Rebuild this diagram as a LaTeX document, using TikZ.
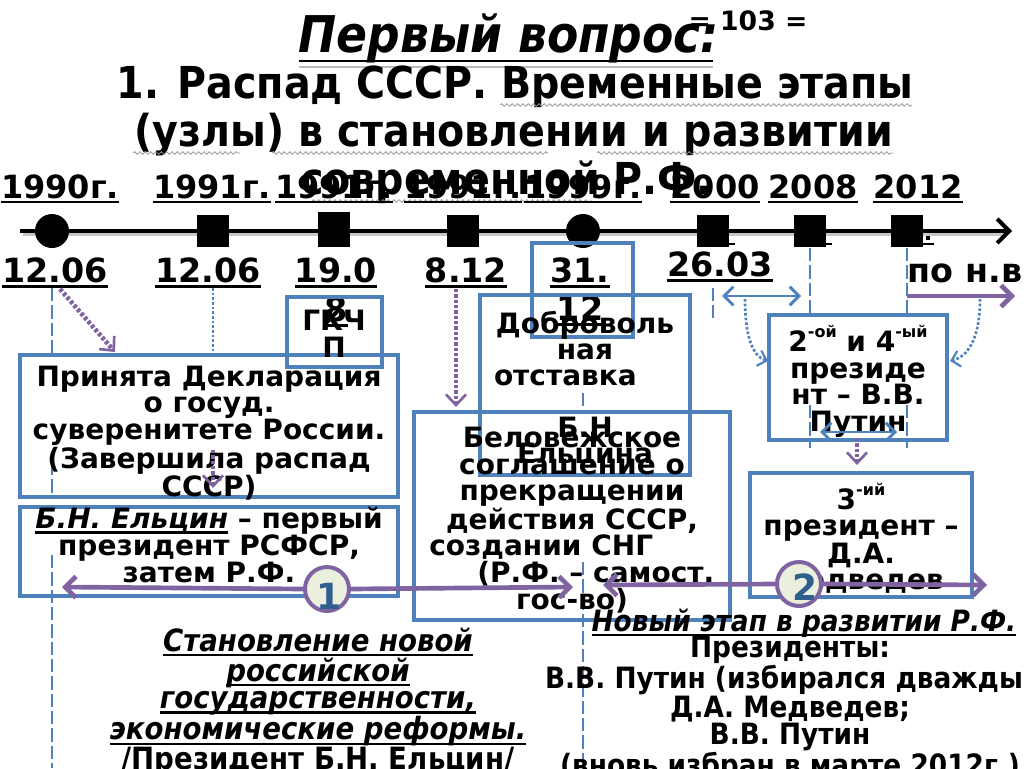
\documentclass[tikz,border=0pt]{standalone}
\usepackage{fontspec}
\setmainfont{DejaVu Sans}
\newfontfamily\cond{DejaVu Sans Condensed}
\usetikzlibrary{arrows.meta,decorations.pathmorphing,calc}
\definecolor{bblue}{RGB}{79,129,189}
\definecolor{ppurple}{RGB}{128,100,162}
\definecolor{cfill}{RGB}{234,239,222}
\definecolor{numblue}{RGB}{47,94,143}
\definecolor{wavy}{RGB}{150,150,150}
\newcommand{\fs}[2]{\fontsize{#1}{#2}\selectfont}
\newsavebox\ulbox
\newcommand{\ul}[1]{\sbox\ulbox{#1}\rlap{\rule[-0.17em]{\wd\ulbox}{0.08em}}\usebox\ulbox}
\newcommand{\supr}[1]{\smash{\raisebox{0.5em}{\fs{12}{12}#1}}}
\begin{document}
\begin{tikzpicture}[x=0.75pt,y=-0.75pt,
  box/.style={draw=bblue, line width=2.6pt},
  bt/.style={font=\bfseries\fs{21}{20}, align=center, inner sep=0pt},
  yr/.style={font=\bfseries\fs{24}{24}, inner sep=0pt, anchor=base},
  dt/.style={font=\bfseries\fs{25}{29}, inner sep=0pt, anchor=base},
  tl/.style={font=\cond\bfseries\fs{33}{33}, inner sep=0pt, anchor=base},
  sq/.style={fill=black, inner sep=0pt, minimum width=24pt, minimum height=24pt},
  dotm/.style={circle, fill=black, inner sep=0pt, minimum size=25.5pt},
  bdash/.style={draw=bblue, line width=2.2pt, dash pattern=on 10pt off 3pt},
  bdot/.style={draw=bblue, line width=2pt, dash pattern=on 2pt off 1.5pt},
  pdot/.style={draw=ppurple, line width=3.5pt, dash pattern=on 2.5pt off 1.5pt,
     arrows={-Straight Barb[length=8pt,width=15pt,line width=2pt]}},
  parr/.style={draw=ppurple, line width=3.5pt, arrows={-Straight Barb[length=8pt,width=16pt]}},
  barr/.style={draw=bblue, line width=2.2pt, arrows={Straight Barb[length=7pt,width=14pt]-Straight Barb[length=7pt,width=14pt]}},
  bcurve/.style={draw=bblue, line width=2pt, dash pattern=on 2pt off 1.5pt, arrows={-Straight Barb[length=6pt,width=12pt,line width=1.6pt]}},
  wav/.style={draw=wavy, line width=0.6pt, decorate, decoration={snake, amplitude=1pt, segment length=4pt}},
  circ/.style={circle, draw=ppurple, line width=3pt, fill=cfill, minimum size=33pt, inner sep=0pt},
  num/.style={font=\bfseries\fs{27}{27}, text=numblue, inner sep=0pt}
]
\useasboundingbox (0,0) rectangle (1024,768);

% ---------- title ----------
\node[font=\cond\bfseries\itshape\fs{38}{38}, anchor=base, inner sep=0pt] (t0) at (509,52) {Первый вопрос:};
\draw[line width=2.2pt] ($(t0.base west)+(0,9)$) -- ($(t0.base east)+(-6,9)$);
\draw[gray!55, line width=1.2pt] ($(t0.base west)+(0,15)$) -- ($(t0.base east)+(-6,15)$);
\node[font=\bfseries\fs{20}{20}, anchor=base, inner sep=0pt] (t1) at (748,30) {= 103 =};
\node[tl] (t2) at (515,98) {1. Распад СССР. Временные этапы};
\node[tl] (t3) at (514,146) {(узлы) в становлении и развитии};
\node[tl] (t4) at (506,194) {современной Р.Ф.};
\draw[wav] (500,105) -- (912,105);
\draw[wav] (133,153) -- (240,153);
\draw[wav] (272,153) -- (548,153);
\draw[wav] (597,153) -- (893,153);
\draw[wav] (312,201) -- (592,201);

% ---------- years ----------
\node[yr] (y1) at (60,198) {\ul{1990г.}};
\node[yr] (y2) at (212,198) {\ul{1991г.}};
\node[yr] (y3) at (334,198) {\ul{1991г.}};
\node[yr] (y4) at (463,198) {\ul{1991г.}};
\node[yr] (y5) at (583,198) {\ul{1999г.}};
\node[yr] (y6) at (715,198) {\ul{2000}};
\node[yr] (y7) at (813,198) {\ul{2008}};
\node[yr] (y8) at (918,198) {\ul{2012}};

% ---------- timeline ----------
\coordinate (tl0) at (20,231);
\coordinate (tl1) at (1012,231);
\draw[gray!45, line width=3pt] (23,234) -- (1006,234);
\draw[line width=3pt, arrows={-Straight Barb[length=9pt,width=18pt]}] (tl0) -- (tl1);
\node[dotm] (m1) at (52,231) {};
\node[sq] (m2) at (213,231) {};
\node[sq, minimum height=26pt] (m3) at (334,229.5) {};
\node[sq] (m4) at (463,231) {};
\node[dotm] (m5) at (583,231) {};
\node[sq] (m6) at (713,231) {};
\node[sq] (m7) at (810,231) {};
\node[sq] (m8) at (907,231) {};
\draw[line width=1.5pt] (727,244) -- (735,244);
\draw[line width=1.5pt] (824,244) -- (832,244);
\draw[line width=1.5pt] (921,244) -- (934,244);
\fill (926,236) rectangle (930,240);

% ---------- dates ----------
\node[dt] (d1) at (55,282) {\ul{12.06}};
\node[dt] (d2) at (208,282) {\ul{12.06}};
\node[dt] (d3) at (336,282) {\ul{19.0}};
\node[dt] (d3b) at (336,321) {\ul{8}};
\node[dt] (d4) at (466,282) {\ul{8.12}};
\node[dt] (d5) at (580,282) {\ul{31.}};
\node[dt] (d5b) at (580,320) {\ul{12}};
\node[dt] (d6) at (720,276) {\ul{26.03}};
\node[dt] (d7) at (965,282) {по н.в};

% ---------- vertical guide lines ----------
\draw[bdash] (52,288) -- (52,353);
\draw[bdash] (52,462) -- (52,497);
\draw[bdash] (52,555) -- (52,768);
\draw[bdot] (213,288) -- (213,353);
\draw[bdash] (583,393) -- (583,406);
\draw[bdash] (583,562) -- (583,768);
\draw[bdash] (713,288) -- (713,318);
\draw[bdash] (810,248) -- (810,315);
\draw[bdash] (907,248) -- (907,315);
\draw[bdash] (810,405) -- (810,448);
\draw[bdash] (907,405) -- (907,448);

% ---------- boxes ----------
\draw[box] (287,297) rectangle (382,367);
\draw[box] (20,355) rectangle (398,497);
\draw[box] (20,507) rectangle (398,596);
\draw[box] (480,295) rectangle (690,475);
\draw[box] (532,243) rectangle (633,337);
\draw[box] (414,412) rectangle (730,620);
\draw[box] (769,315) rectangle (947,440);
\draw[box] (750,473) rectangle (972,597);

\node[bt] (gkchp) at (334,334) {ГКЧ\\П};
\node[bt] (decl) at (209,433) {Принята Декларация\\о госуд.\\суверенитете России.\\(Завершила распад\\СССР)};
\node[bt] (elc) at (209,545) {\ul{\itshape Б.Н. Ельцин} – первый\\президент РСФСР,\\затем Р.Ф.};
\node[bt, font=\bfseries\fs{21}{19.5}] (otst) at (585,389) {Доброволь\\ная\\\mbox{отставка\hspace{1.4em}}\\ \\Б.Н\\Ельцина};
\node[bt] (bel) at (572,520) {Беловежское\\соглашение о\\прекращении\\действия СССР,\\\mbox{создании СНГ\hspace{2.2em}}\\\mbox{\hspace{1.7em}(Р.Ф. – самост.}\\гос-во)};
\node[bt] (put) at (858,384) {2\supr{-ой} и 4\supr{-ый}\\президе\\нт – В.В.\\Путин};
\node[bt, font=\bfseries\fs{21}{19.5}] (med) at (861,541) {3\supr{-ий}\\президент –\\Д.А.\\Медведев};

% ---------- arrows ----------
\coordinate (a1s) at (60,289);
\coordinate (a1e) at (115,352);
\draw[pdot] (a1s) -- (a1e);
\coordinate (a2s) at (213,450);
\coordinate (a2e) at (213,488);
\draw[pdot] (a2s) -- (a2e);
\coordinate (a3s) at (456,289);
\coordinate (a3e) at (456,407);
\draw[pdot] (a3s) -- (a3e);
\coordinate (b1s) at (722,296);
\coordinate (b1e) at (801,296);
\draw[barr] (b1s) -- (b1e);
\coordinate (b2s) at (820,432);
\coordinate (b2e) at (897,432);
\draw[barr] (b2s) -- (b2e);
\coordinate (c1s) at (745,299);
\coordinate (c1e) at (768,361);
\draw[bcurve] (c1s) .. controls (745,335) and (752,356) .. (c1e);
\coordinate (c2s) at (980,299);
\coordinate (c2e) at (950,361);
\draw[bcurve] (c2s) .. controls (980,335) and (970,356) .. (c2e);
\coordinate (a4s) at (857,438);
\coordinate (a4e) at (857,465);
\draw[pdot] (a4s) -- (a4e);
\coordinate (p0) at (907,296);
\coordinate (p1) at (1015,296);
\draw[parr] (p0) -- (p1);

% ---------- stage circles ----------
\node[circ] (k1) at (327,589) {};
\coordinate (k1l) at (62,587);
\coordinate (k1r) at (573,587);
\draw[parr] (k1.west) -- (k1l);
\draw[parr] (k1.east) -- (k1r);
\node[num] (n1) at (329,596) {1};
\coordinate (k2l) at (603,585);
\coordinate (k2r) at (987,585);
\node[circ] (k2) at (799,584) {};
\draw[parr] (k2.west) -- (k2l);
\draw[parr] (k2.east) -- (k2r);
\node[num] (n2) at (805,587) {2};

% ---------- bottom texts ----------
\node[font=\cond\bfseries\fs{23}{20.5}, align=center, inner sep=0pt] (st1) at (318,702)
  {\ul{\itshape Становление новой}\\\ul{\itshape российской}\\\ul{\itshape государственности,}\\\ul{\itshape экономические реформы.}\\/Президент Б.Н. Ельцин/};
\node[font=\cond\bfseries\itshape\fs{22}{22}, anchor=base, inner sep=0pt] (st2h) at (804,631) {\ul{Новый этап в развитии Р.Ф.}};
\node[font=\cond\bfseries\fs{22}{20.3}, align=center, inner sep=0pt] (st2) at (790,709)
  {Президенты:\\В.В. Путин (избирался дважды)\\Д.А. Медведев;\\В.В. Путин\\(вновь избран в марте 2012г.)};
\end{tikzpicture}
\end{document}
